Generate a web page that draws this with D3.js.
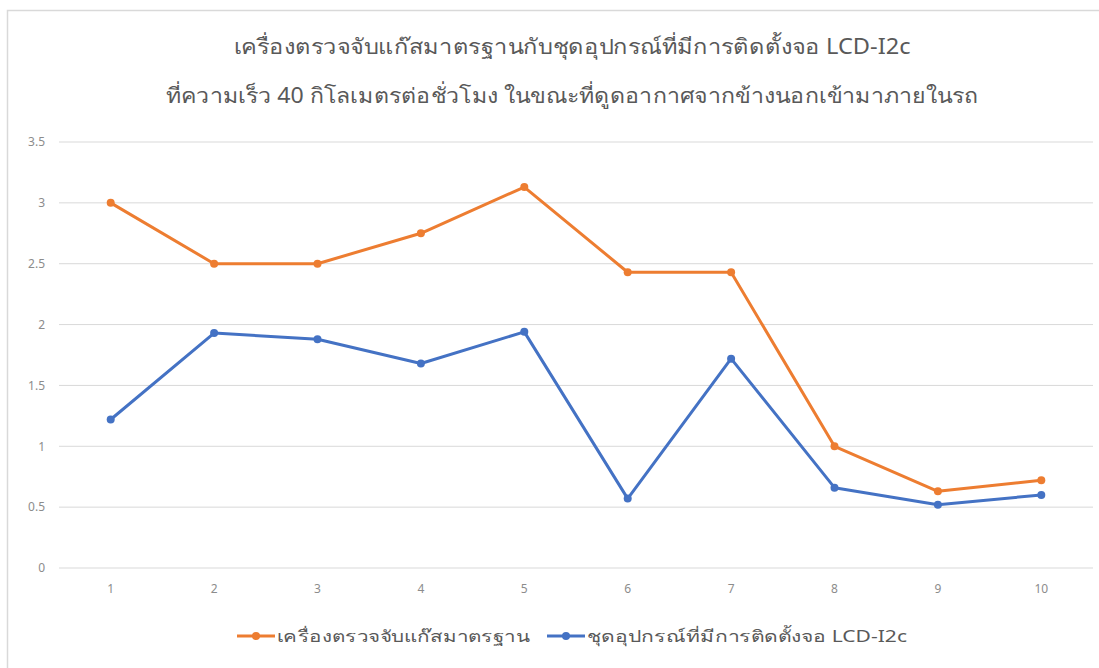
<!DOCTYPE html>
<html>
<head>
<meta charset="utf-8">
<script src="https://cdn.jsdelivr.net/npm/d3@7"></script>
<style>
body{margin:0;background:#fff;}
svg{display:block;font-family:"Noto Sans","Open Sans",sans-serif;}
</style>
</head>
<body>
<svg id="chart" width="1099" height="668"></svg>
<script>
const titleLines = ["เครื่องตรวจจับแก๊สมาตรฐานกับชุดอุปกรณ์ที่มีการติดตั้งจอ LCD-I2c",
                    "ที่ความเร็ว 40 กิโลเมตรต่อชั่วโมง ในขณะที่ดูดอากาศจากข้างนอกเข้ามาภายในรถ"];
const categories = ["1","2","3","4","5","6","7","8","9","10"];
const seriesNames = ["เครื่องตรวจจับแก๊สมาตรฐาน","ชุดอุปกรณ์ที่มีการติดตั้งจอ LCD-I2c"];
const standardValues = [3.0, 2.5, 2.5, 2.75, 3.13, 2.43, 2.43, 1.0, 0.63, 0.72];
const deviceValues = [1.22, 1.93, 1.88, 1.68, 1.94, 0.57, 1.72, 0.66, 0.52, 0.6];
const yTicks = [0, 0.5, 1, 1.5, 2, 2.5, 3, 3.5];
const colors = ["#ED7D31", "#4472C4"];

(function(){
const svg = d3.select("#chart");
svg.append("rect").attr("x",7.5).attr("y",10.5).attr("width",1099).attr("height",668)
  .attr("fill","#fff").attr("stroke","#d9d9d9").attr("stroke-width",1.5);

const pLeft = 59, pRight = 1093, pTop = 142, pBottom = 568;
const x = d3.scaleBand().domain(categories).range([pLeft, pRight]);
const y = d3.scaleLinear().domain([0, 3.5]).range([pBottom, pTop]);

svg.append("g").selectAll("line").data(yTicks).join("line")
  .attr("x1", pLeft).attr("x2", pRight)
  .attr("y1", d => y(d)).attr("y2", d => y(d))
  .attr("stroke", "#d9d9d9").attr("stroke-width", 1);

const yAxis = d3.axisLeft(y).tickValues(yTicks).tickSize(0).tickPadding(0).tickFormat(d3.format("~g"));
const yg = svg.append("g").attr("transform", `translate(${pLeft-14},0)`).call(yAxis);
yg.select(".domain").remove();
yg.attr("font-family",null);
yg.selectAll("text").attr("fill","#8c8c8c").attr("font-size",12);

const xAxis = d3.axisBottom(x).tickSize(0).tickPadding(0);
const xg = svg.append("g").attr("transform", `translate(0,${pBottom+16})`).call(xAxis);
xg.select(".domain").remove();
xg.attr("font-family",null);
xg.selectAll("text").attr("fill","#8c8c8c").attr("font-size",12);

const allSeries = [standardValues, deviceValues];
const line = d3.line().x((d,i) => x(categories[i]) + x.bandwidth()/2).y(d => y(d));
allSeries.forEach((vals, si) => {
  svg.append("path").datum(vals).attr("d", line)
    .attr("fill","none").attr("stroke", colors[si]).attr("stroke-width", 3)
    .attr("stroke-linejoin","round");
  svg.append("g").selectAll("circle").data(vals).join("circle")
    .attr("cx", (d,i) => x(categories[i]) + x.bandwidth()/2)
    .attr("cy", d => y(d)).attr("r", 4).attr("fill", colors[si]);
});

const titleWidths = [677, 813];
svg.append("g").selectAll("text").data(titleLines).join("text")
  .attr("x", 572).attr("y", (d,i) => 54 + i*49)
  .attr("text-anchor","middle").attr("font-size",21).attr("fill","#595959")
  .attr("textLength", (d,i) => titleWidths[i]).attr("lengthAdjust","spacingAndGlyphs")
  .text(d => d);

const legendX = [237, 547];
const legendWidths = [253, 320];
seriesNames.forEach((name, i) => {
  const g = svg.append("g").attr("transform", `translate(${legendX[i]},636)`);
  g.append("line").attr("x1",0).attr("x2",38).attr("y1",0).attr("y2",0)
    .attr("stroke", colors[i]).attr("stroke-width",3);
  g.append("circle").attr("cx",19).attr("cy",0).attr("r",4).attr("fill",colors[i]);
  g.append("text").attr("x",40).attr("y",6).attr("font-size",16).attr("fill","#595959")
    .attr("textLength", legendWidths[i]).attr("lengthAdjust","spacingAndGlyphs").text(name);
});
})();
</script>
</body>
</html>
